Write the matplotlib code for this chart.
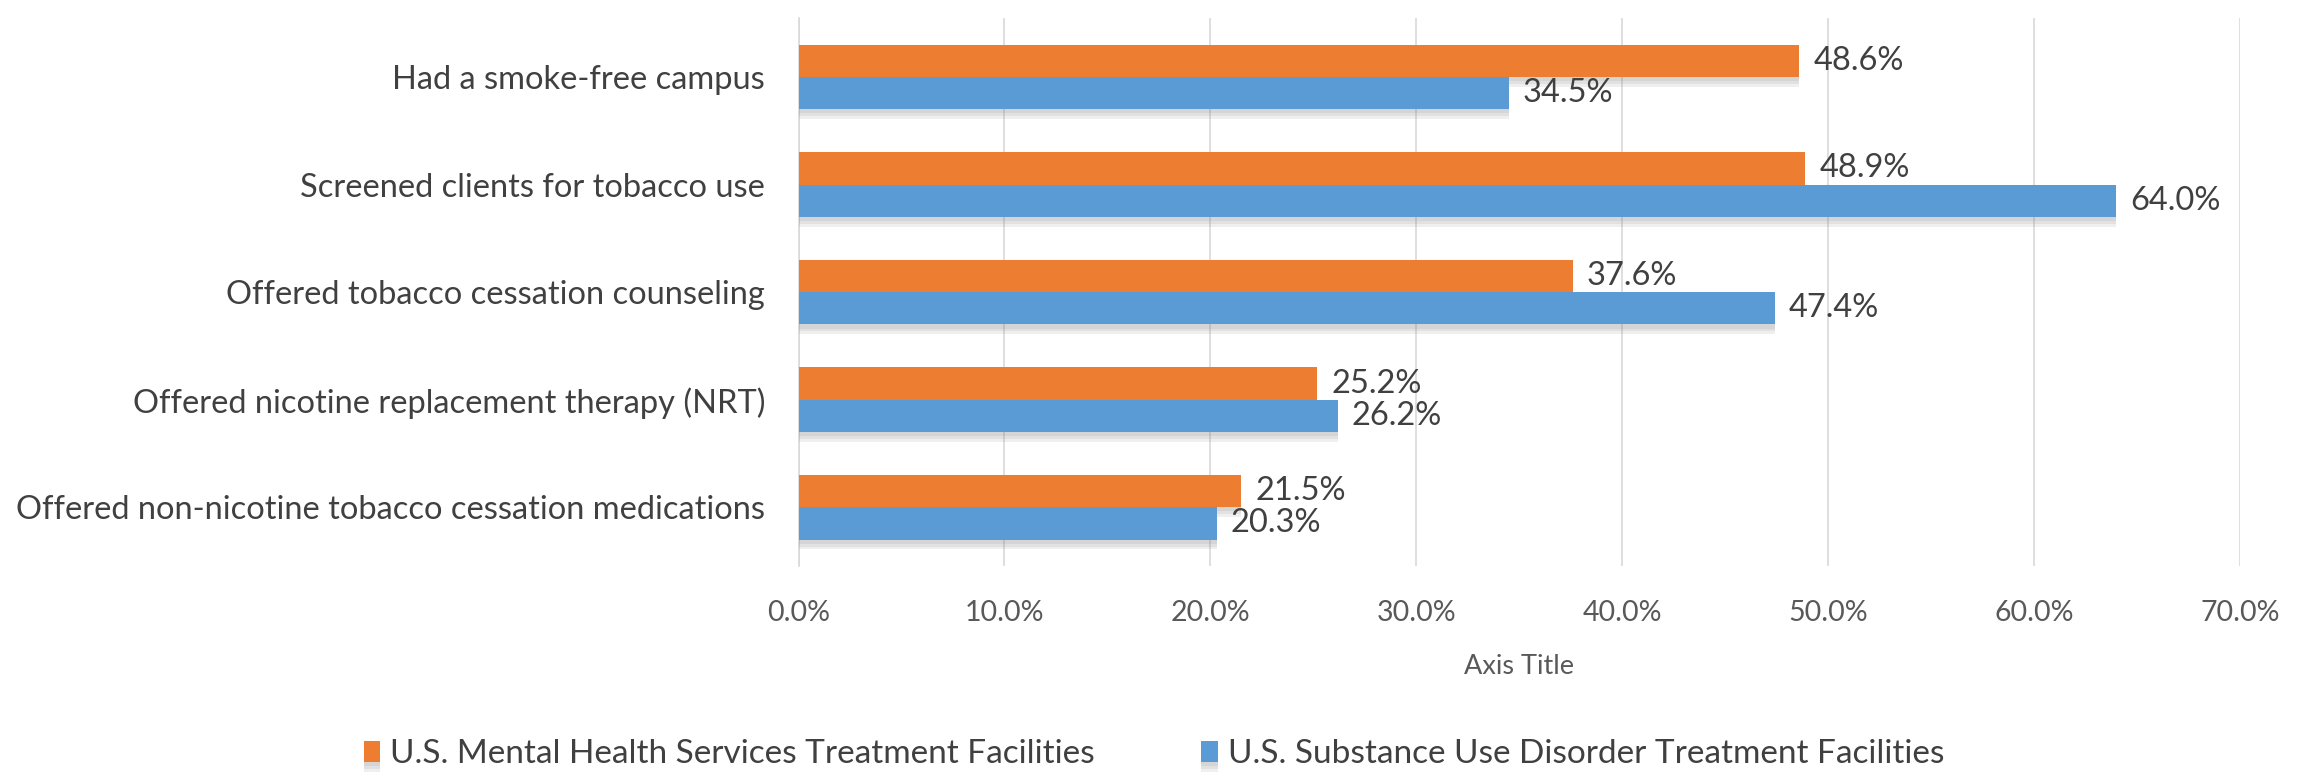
import numpy as np
import matplotlib
matplotlib.use('Agg')
import matplotlib.pyplot as plt
import matplotlib.patheffects as pe
from matplotlib.ticker import FuncFormatter

# 数据
categories = [
    'Had a smoke-free campus',
    'Screened clients for tobacco use',
    'Offered tobacco cessation counseling',
    'Offered nicotine replacement therapy (NRT)',
    'Offered non-nicotine tobacco cessation medications',
]
mental_health = [48.6, 48.9, 37.6, 25.2, 21.5]
substance_use = [34.5, 64.0, 47.4, 26.2, 20.3]
series_names = [
    'U.S. Mental Health Services Treatment Facilities',
    'U.S. Substance Use Disorder Treatment Facilities',
]
x_ticks = [0, 10, 20, 30, 40, 50, 60, 70]

plt.rcParams['font.family'] = ['Lato', 'DejaVu Sans']

ORANGE = '#ED7D31'
BLUE = '#5B9BD5'
TEXT = '#404040'
TICK = '#595959'

fig = plt.figure(figsize=(23.08, 7.76), dpi=100)
ax = fig.add_axes([0.346, 0.27, 0.6245, 0.707])

y = np.arange(len(categories))
h = 0.3
# 柔和阴影：叠几层偏移的半透明阴影
shadow = [pe.SimplePatchShadow(offset=(0, -d), shadow_rgbFace='#7F7F7F', alpha=0.12)
          for d in (7, 5, 3)] + [pe.Normal()]

b1 = ax.barh(y - h / 2, mental_health, height=h, color=ORANGE,
             label=series_names[0], zorder=3)
b2 = ax.barh(y + h / 2, substance_use, height=h, color=BLUE,
             label=series_names[1], zorder=3)
for bars in (b1, b2):
    for p in bars:
        p.set_path_effects(shadow)
    ax.bar_label(bars, labels=[f'{v:.1f}%' for v in bars.datavalues],
                 padding=10, fontsize=23.5, color=TEXT)

ax.set_yticks(y)
ax.set_yticklabels(categories, fontsize=23.5, color=TEXT)
ax.set_ylim(len(categories) - 0.45, -0.55)
ax.set_xlim(0, 70)
ax.set_xticks(x_ticks)
ax.xaxis.set_major_formatter(FuncFormatter(lambda v, _: f'{v:.1f}%'))
ax.tick_params(axis='x', labelsize=20.5, colors=TICK, length=0, pad=24)
ax.tick_params(axis='y', length=0, pad=24)
ax.grid(axis='x', color='#D9D9D9', linewidth=1.2, zorder=0)
for s in ['top', 'right', 'bottom']:
    ax.spines[s].set_visible(False)
ax.spines['left'].set_color('#D9D9D9')
ax.spines['left'].set_linewidth(1.2)

ax.set_xlabel('Axis Title', fontsize=19.5, color=TICK, labelpad=20)

fig.legend(handles=[b1, b2], loc='lower center', bbox_to_anchor=(0.5, -0.03),
           ncol=2, frameon=False, fontsize=24, handlelength=0.5, handleheight=0.6,
           handletextpad=0.3, columnspacing=3.2, labelcolor=TEXT)

fig.savefig('out.png', dpi=100, facecolor='white')
